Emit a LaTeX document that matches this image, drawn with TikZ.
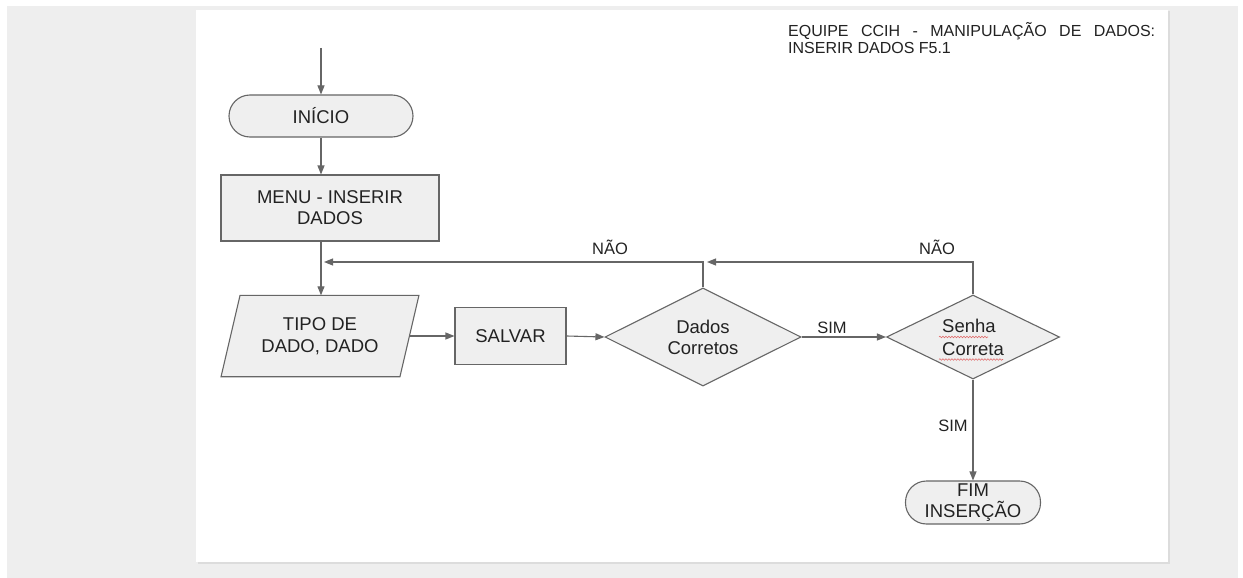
\documentclass[tikz,border=0pt]{standalone}
\usepackage{fontspec}
\setmainfont{Liberation Sans}
\usetikzlibrary{arrows.meta,shapes.geometric,calc,decorations.pathmorphing}

\definecolor{pagebg}{HTML}{EEEEEE}
\definecolor{pageshadow}{HTML}{DCDCDC}
\definecolor{boxfill}{HTML}{EFEFEF}
\definecolor{edge}{HTML}{666666}
\definecolor{ink}{HTML}{222222}
\definecolor{spell}{HTML}{E06A6A}

\tikzset{
  base/.style={draw=edge, fill=boxfill, line width=1.1pt, text=ink,
    font=\fontsize{18.5}{21}\selectfont, align=center, inner sep=0pt},
  terminal/.style={base, rectangle, rounded corners=21pt},
  procbox/.style={base, rectangle},
  decision/.style={base, diamond, aspect=2},
  flow/.style={draw=edge, line width=1.1pt, -{Triangle[length=9pt,width=7pt]}},
  lbl/.style={text=ink, font=\fontsize{16.5}{18}\selectfont, inner sep=0pt},
  titletext/.style={text=ink, font=\fontsize{16}{17}\selectfont, inner sep=0pt, anchor=base west},
  squiggle/.style={draw=spell, line width=0.6pt, decorate,
    decoration={snake, amplitude=0.8pt, segment length=3pt}},
}

\begin{document}
\begin{tikzpicture}[x=1pt,y=-1pt]
  % canvas and page
  \useasboundingbox (0,0) rectangle (1243,578);
  \fill[white] (0,0) rectangle (1243,578);
  \fill[pagebg] (7,6) rectangle (1238,578);
  \fill[pageshadow] (197.5,11.5) rectangle (1169.5,563.5);
  \fill[white] (196,10) rectangle (1168,562);

  % heading
  \node[titletext] (title1) at (788,36.5)
    {\makebox[367pt][s]{EQUIPE CCIH - MANIPULAÇÃO DE DADOS:}};
  \node[titletext] (title2) at (788,53.2) {INSERIR DADOS F5.1};

  % flow nodes
  \coordinate (entry) at (321,48);
  \node[terminal, minimum width=184pt, minimum height=42pt] (inicio) at (321,116) {INÍCIO};
  \node[procbox, minimum width=218pt, minimum height=66pt] (menu) at (330,208) {MENU - INSERIR\\DADOS};

  % data input (parallelogram drawn around a frame node)
  \node[inner sep=0pt, minimum width=178.5pt, minimum height=81pt] (tipo) at (320,336) {};
  \draw[base] ($(tipo.north west)+(9.5,0)$) -- ($(tipo.north east)+(9.5,0)$)
    -- ($(tipo.south east)+(-9.5,0)$) -- ($(tipo.south west)+(-9.5,0)$) -- cycle;
  \node[text=ink, font=\fontsize{18.5}{21.5}\selectfont, align=center, inner sep=0pt]
    (tipotext) at (tipo.center) {TIPO DE\\DADO, DADO};

  \node[procbox, minimum width=111pt, minimum height=57pt] (salvar) at (510.5,336) {SALVAR};
  \node[decision, minimum width=196pt, minimum height=98pt] (dados) at (703,337) {Dados\\Corretos};
  \node[decision, minimum width=173pt, minimum height=84pt, align=left,
    font=\fontsize{18.5}{23}\selectfont] (senha) at (973,337) {Senha\\Correta};
  \node[terminal, minimum width=135pt, minimum height=43pt] (fim) at (973,502.5) {FIM\\INSERÇÃO};

  % spell-check marks under the password question
  \draw[squiggle] ($(senha.center)+(-34,0)$) -- ($(senha.center)+(15,0)$);
  \draw[squiggle] ($(senha.center)+(-34,22.5)$) -- ($(senha.center)+(30,22.5)$);

  % connectors
  \draw[flow] (entry) -- (entry |- inicio.north);
  \draw[flow] (inicio.south) -- (inicio.south |- menu.north);
  \draw[flow] (inicio.south |- menu.south) -- (inicio.south |- tipo.north);
  \draw[flow] (tipo.east) -- (salvar.west);
  \draw[flow] (salvar.east) -- (dados.west);
  \draw[flow] (dados.east) -- (senha.west);
  \draw[flow] (senha.south) -- (fim.north);

  \coordinate (back1) at (324,262);
  \coordinate (back2) at (707,262);
  \draw[flow] (dados.north) |- (back1);
  \draw[flow] (senha.north) |- (back2);

  % branch labels
  \node[lbl] (nao1) at (610,247) {NÃO};
  \node[lbl] (nao2) at (937,247) {NÃO};
  \node[lbl] (sim1) at (832,328) {SIM};
  \node[lbl] (sim2) at (953,426) {SIM};
\end{tikzpicture}
\end{document}
